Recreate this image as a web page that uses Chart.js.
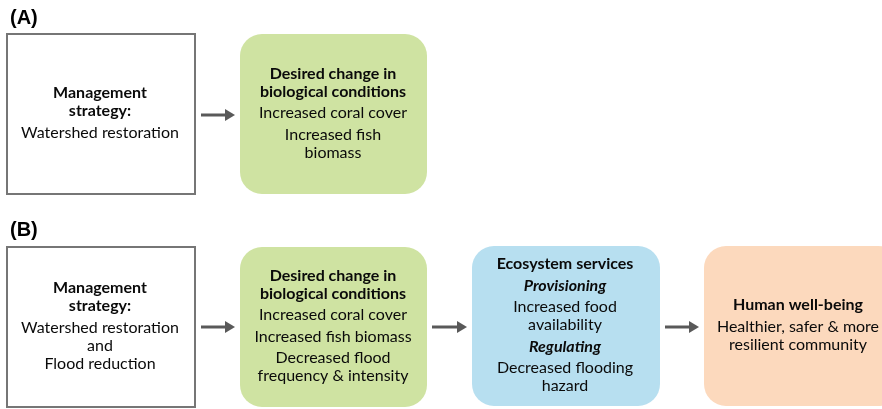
<!DOCTYPE html>
<html>
<head>
<meta charset="utf-8">
<script src="https://cdn.jsdelivr.net/npm/chart.js@4.4.0/dist/chart.umd.min.js"></script>
<style>
  html, body { margin: 0; padding: 0; background: #fff; }
  #wrap { width: 882px; height: 409px; }
</style>
</head>
<body>
<div id="wrap"><canvas id="c" width="882" height="409"></canvas></div>
<script>
// diagram units: x 0..882, y 0..409 (top to bottom)
const panelLabels = ['(A)', '(B)'];
const panelLabelX = [10, 10];
const panelLabelY = [18, 230];

const boxKind = ['plain', 'green', 'plain', 'green', 'blue', 'orange'];
const boxX0 = [7, 240, 7, 240, 472, 704];
const boxX1 = [195, 427, 195, 427, 660, 900];
const boxY0 = [34, 34, 247, 247, 246, 246];
const boxY1 = [194, 194, 407, 407, 406, 406];

// paragraphs per box; each line is [style, text]
const boxText = [
  [[['b', 'Management'], ['b', 'strategy:']], [['n', 'Watershed restoration']]],
  [[['b', 'Desired change in'], ['b', 'biological conditions']],
   [['n', 'Increased coral cover']],
   [['n', 'Increased fish'], ['n', 'biomass']]],
  [[['b', 'Management'], ['b', 'strategy:']],
   [['n', 'Watershed restoration'], ['n', 'and'], ['n', 'Flood reduction']]],
  [[['b', 'Desired change in'], ['b', 'biological conditions']],
   [['n', 'Increased coral cover']],
   [['n', 'Increased fish biomass']],
   [['n', 'Decreased flood'], ['n', 'frequency & intensity']]],
  [[['b', 'Ecosystem services']],
   [['bi', 'Provisioning']],
   [['n', 'Increased food'], ['n', 'availability']],
   [['bi', 'Regulating']],
   [['n', 'Decreased flooding'], ['n', 'hazard']]],
  [[['b', 'Human well-being']],
   [['n', 'Healthier, safer & more'], ['n', 'resilient community']]]
];
const boxTextCx = [100, 333, 100, 333, 565, 798];

const arrowX0 = [201, 201, 432, 665];
const arrowX1 = [235, 235, 467, 699];
const arrowY = [115, 327, 327, 327];

const fills = { plain: '#ffffff', green: '#cfe3a2', blue: '#b7dff0', orange: '#fcd9bd' };

const diagramPlugin = {
  id: 'diagram',
  afterDatasetsDraw(chart) {
    const ctx = chart.ctx;
    const xs = chart.scales.x, ys = chart.scales.y;
    const px = v => xs.getPixelForValue(v);
    const py = v => ys.getPixelForValue(v);
    ctx.save();

    // panel labels
    ctx.fillStyle = '#000';
    ctx.font = 'bold 20px "Liberation Sans", Arial, sans-serif';
    ctx.textAlign = 'left';
    ctx.textBaseline = 'middle';
    panelLabels.forEach((t, i) => ctx.fillText(t, px(panelLabelX[i]), py(panelLabelY[i])));

    // boxes
    boxKind.forEach((k, i) => {
      const x0 = px(boxX0[i]), x1 = px(boxX1[i]);
      const y0 = py(boxY0[i]), y1 = py(boxY1[i]);
      ctx.beginPath();
      if (k === 'plain') {
        ctx.rect(x0, y0, x1 - x0, y1 - y0);
        ctx.fillStyle = fills[k];
        ctx.fill();
        ctx.lineWidth = 2;
        ctx.strokeStyle = '#767676';
        ctx.stroke();
      } else {
        ctx.roundRect(x0, y0, x1 - x0, y1 - y0, 22);
        ctx.fillStyle = fills[k];
        ctx.fill();
      }
    });

    // box text
    const lineH = 18, paraGap = 3.5;
    ctx.textAlign = 'center';
    ctx.fillStyle = '#0a0a0a';
    boxText.forEach((paras, i) => {
      let total = 0;
      paras.forEach((p, j) => { total += p.length * lineH + (j > 0 ? paraGap : 0); });
      const cy = (py(boxY0[i]) + py(boxY1[i])) / 2 - 1;
      let y = cy - total / 2 + lineH / 2;
      paras.forEach((p, j) => {
        if (j > 0) y += paraGap;
        p.forEach(([st, txt]) => {
          const w = st === 'n' ? 'normal' : 'bold';
          const it = st === 'bi' ? 'italic ' : '';
          ctx.font = it + w + ' 16px Lato, "Open Sans", sans-serif';
          ctx.fillText(txt, px(boxTextCx[i]), y);
          y += lineH;
        });
      });
    });

    // arrows
    ctx.strokeStyle = '#595959';
    ctx.fillStyle = '#595959';
    ctx.lineWidth = 3;
    arrowX0.forEach((a, i) => {
      const x0 = px(a), x1 = px(arrowX1[i]), y = py(arrowY[i]);
      ctx.beginPath();
      ctx.moveTo(x0, y);
      ctx.lineTo(x1 - 8, y);
      ctx.stroke();
      ctx.beginPath();
      ctx.moveTo(x1, y);
      ctx.lineTo(x1 - 10, y - 6);
      ctx.lineTo(x1 - 10, y + 6);
      ctx.closePath();
      ctx.fill();
    });
    ctx.restore();
  }
};

new Chart(document.getElementById('c'), {
  type: 'scatter',
  data: { datasets: [{ data: [], pointRadius: 0 }] },
  options: {
    responsive: false,
    animation: false,
    layout: { padding: 0 },
    plugins: { legend: { display: false }, tooltip: { enabled: false } },
    scales: {
      x: { type: 'linear', min: 0, max: 882, display: false },
      y: { type: 'linear', min: 0, max: 409, reverse: true, display: false }
    }
  },
  plugins: [diagramPlugin]
});
</script>
</body>
</html>
